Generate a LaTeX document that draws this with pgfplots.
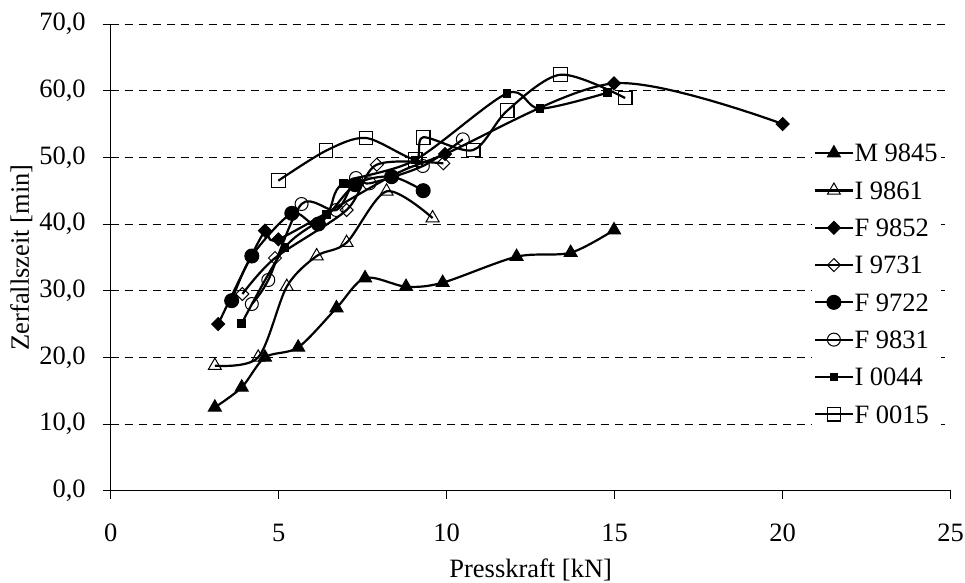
\documentclass[border=0pt]{standalone}
\usepackage{fontspec}
\setmainfont{Liberation Serif}
\usepackage{pgfplots}
\pgfplotsset{compat=1.18}
\begin{document}
\fontsize{26.5bp}{30bp}\selectfont
\begin{tikzpicture}
\begin{axis}[
  at={(0,0)}, anchor=south west,
  scale only axis, width=840bp, height=466.7bp,
  xmin=0, xmax=25, ymin=0, ymax=70,
  xtick={0,5,...,25}, ytick={0,10,...,70},
  axis x line*=bottom, axis y line*=left,
  axis line style={line width=0.9bp, -},
  tick align=outside, major tick length=8bp,
  tick style={black, line width=0.9bp},
  ymajorgrids, grid style={black, dashed, dash pattern=on 8bp off 6bp, line width=0.9bp},
  /pgf/number format/assume math mode=true,
  yticklabel={\pgfmathprintnumber[fixed,fixed zerofill,precision=1,use comma]{\tick}},
  xticklabel style={yshift=-16bp},
  yticklabel style={xshift=-8bp},
  xlabel={Presskraft [kN]}, ylabel={Zerfallszeit [min]},
  xlabel style={yshift=1bp}, ylabel style={yshift=-11bp},
  every axis plot/.append style={black, line width=2.2bp, smooth, tension=0.5},
  legend style={at={(0.835,0.749)}, anchor=north west, draw=none, fill=white,
     row sep=17.7bp, inner xsep=2bp, inner ysep=2bp,
     nodes={inner sep=1bp, text depth=0bp}},
  legend cell align=left,
  legend image code/.code={\draw[#1, mark repeat=2, mark phase=2] plot coordinates {(0bp,0bp) (18.5bp,0bp) (37bp,0bp)};},
]
% M 9845
\addplot[mark=triangle*, mark size=7.5bp, mark options={solid, fill=black, line width=1bp}] coordinates {
(3.10,12.5)(3.90,15.5)(4.59,20.0)(5.58,21.5)(6.72,27.4)(7.57,31.9)(8.79,30.6)(9.88,31.2)(12.08,35.1)(13.69,35.7)(14.98,39.1)};
\addlegendentry{M 9845}
% I 9861
\addplot[mark=triangle, mark size=7.5bp, mark options={solid, fill=white, line width=1bp}] coordinates {
(3.10,18.75)(4.39,20.0)(5.24,30.6)(6.13,35.2)(7.02,37.2)(8.21,44.9)(9.58,40.9)};
\addlegendentry{I 9861}
% F 9852
\addplot[mark=square*, mark size=4.6bp, mark options={solid, rotate=45, fill=black, line width=1bp}] coordinates {
(3.20,25.0)(4.59,39.0)(4.99,37.7)(8.36,47.2)(9.95,50.5)(14.98,61.1)(20.0,55.0)};
\addlegendentry{F 9852}
% I 9731
\addplot[mark=square, mark size=4.6bp, mark options={solid, rotate=45, fill=white, line width=1bp}] coordinates {
(3.92,29.5)(4.89,34.9)(7.02,42.1)(7.92,48.9)(9.90,49.1)};
\addlegendentry{I 9731}
% F 9722
\addplot[mark=*, mark size=7bp, mark options={solid, fill=black, line width=1bp}] coordinates {
(3.60,28.5)(4.20,35.2)(5.39,41.6)(6.18,40.0)(7.27,45.9)(8.36,47.1)(9.30,45.0)};
\addlegendentry{F 9722}
% F 9831
\addplot[mark=o, mark size=6.5bp, mark options={solid, fill=white, line width=1bp}] coordinates {
(4.20,28.0)(4.69,31.6)(5.68,43.0)(6.72,42.1)(7.30,46.9)(7.70,46.1)(9.29,48.7)(10.48,52.7)};
\addlegendentry{F 9831}
% I 0044
\addplot[mark=square*, mark size=3.8bp, mark options={solid, fill=black, line width=1bp}] coordinates {
(3.90,25.1)(5.19,36.5)(6.42,41.4)(6.92,46.1)(9.06,49.6)(11.80,59.6)(12.78,57.3)(14.79,59.7)};
\addlegendentry{I 0044}
% F 0015
\addplot[mark=square, mark size=6.8bp, mark options={solid, fill=white, line width=1.2bp}] coordinates {
(4.99,46.5)(6.41,51.0)(7.60,52.9)(9.06,49.7)(9.30,53.0)(10.79,51.1)(11.80,57.0)(13.39,62.4)(15.31,58.9)};
\addlegendentry{F 0015}
\end{axis}
\pgfresetboundingbox
\path (-110.7bp,-92.3bp) rectangle (854.3bp,490.7bp);
\end{tikzpicture}
\end{document}
